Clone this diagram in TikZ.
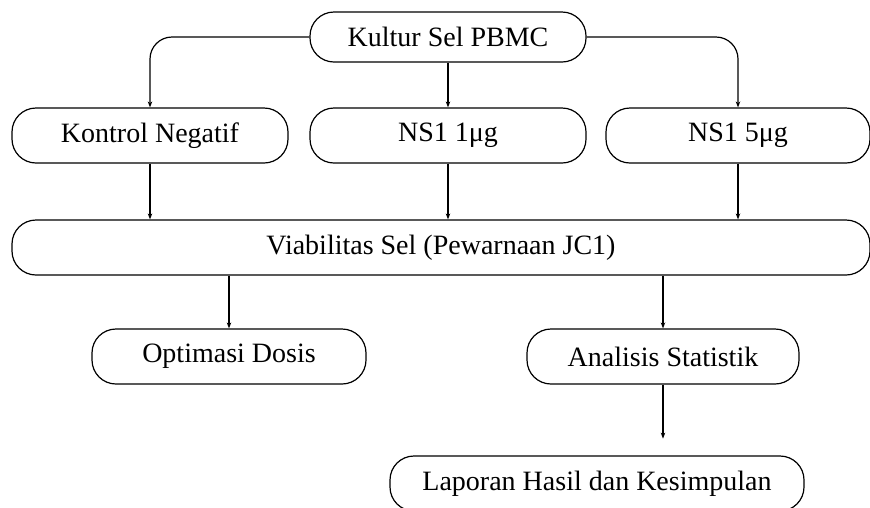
\documentclass[tikz,border=0pt]{standalone}
\usepackage{fontspec}
\setmainfont{Liberation Serif}
\usetikzlibrary{arrows.meta}
\begin{document}
\begin{tikzpicture}[x=1pt,y=-1pt,
  box/.style={draw, line width=1.2pt, rounded corners=24pt, minimum height=55pt, inner sep=0pt, font=\fontsize{28}{32}\selectfont},
  arr/.style={draw, line width=1.2pt, -{Stealth[length=6pt,width=4.5pt]}}]
\useasboundingbox (0,0) rectangle (870,507);
\node[box, minimum width=276pt, minimum height=50pt] (kultur) at (448,37) {Kultur Sel PBMC};
\node[box, minimum width=276pt] (kontrol) at (150,135.5) {Kontrol Negatif};
\node[box, minimum width=276pt] (ns1) at (448,135.5) {NS1 1μg};
\node[box, minimum width=264pt] (ns5) at (738,135.5) {NS1 5μg};
\node[box, minimum width=858pt] (viab) at (441,247.5) {Viabilitas Sel (Pewarnaan JC1)};
\node[box, minimum width=274pt] (opt) at (229,356.5) {Optimasi Dosis};
\node[box, minimum width=272pt] (anal) at (663,356.5) {Analisis Statistik};
\node[box, minimum width=414pt] (lap) at (597,483.5) {Laporan Hasil dan Kesimpulan};
\coordinate (endpt) at ([yshift=-54pt]anal.south);
\draw[arr, rounded corners=22pt] (kultur.west) -| (kontrol.north);
\draw[arr] (kultur.south) -- (ns1.north);
\draw[arr, rounded corners=22pt] (kultur.east) -| (ns5.north);
\draw[arr] (kontrol.south) -- (kontrol.south |- viab.north);
\draw[arr] (ns1.south) -- (ns1.south |- viab.north);
\draw[arr] (ns5.south) -- (ns5.south |- viab.north);
\draw[arr] (opt.north |- viab.south) -- (opt.north);
\draw[arr] (anal.north |- viab.south) -- (anal.north);
\draw[arr] (anal.south) -- (endpt);
\end{tikzpicture}
\end{document}
